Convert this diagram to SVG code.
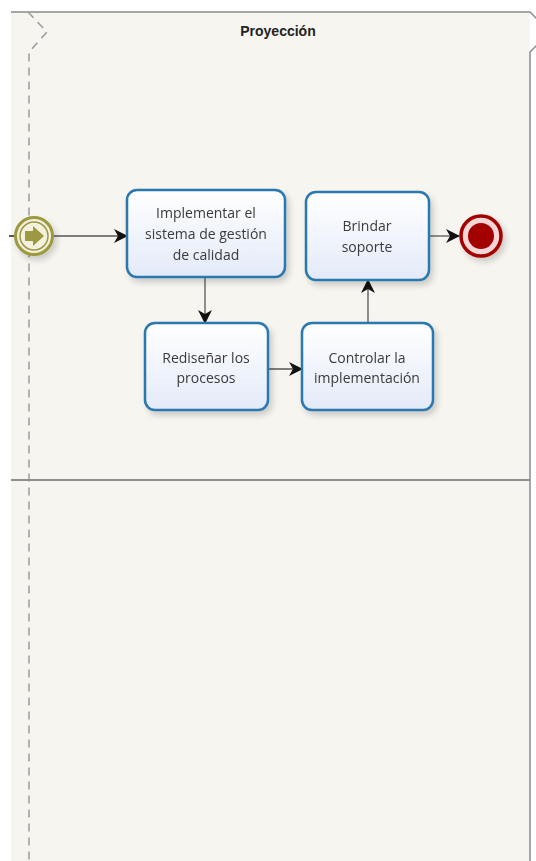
<svg xmlns="http://www.w3.org/2000/svg" width="536" height="861" viewBox="0 0 536 861">
  <defs>
    <linearGradient id="taskFill" x1="0" y1="0" x2="0" y2="1">
      <stop offset="0" stop-color="#ffffff"/>
      <stop offset="1" stop-color="#e3eaf8"/>
    </linearGradient>
    <filter id="shadow" x="-20%" y="-20%" width="150%" height="150%">
      <feGaussianBlur in="SourceAlpha" stdDeviation="3"/>
      <feOffset dx="3" dy="4" result="b"/>
      <feComponentTransfer><feFuncA type="linear" slope="0.18"/></feComponentTransfer>
      <feMerge><feMergeNode/><feMergeNode in="SourceGraphic"/></feMerge>
    </filter>
    <marker id="arrow" markerWidth="14" markerHeight="14" refX="13" refY="7" orient="auto" markerUnits="userSpaceOnUse">
      <path d="M0,0 L14,7 L0,14 L4,7 Z" fill="#111"/>
    </marker>
    <style>
      .task rect { fill: url(#taskFill); stroke: #2a78ad; stroke-width: 2.5; }
      .task text { font-family: "Open Sans", "DejaVu Sans", sans-serif; font-size: 14px; fill: #3a3a3a; text-anchor: middle; dominant-baseline: central; }
      .flow { stroke: #555; stroke-width: 1.3; fill: none; marker-end: url(#arrow); }
    </style>
  </defs>

  <!-- pool / lane background -->
  <g id="pool">
    <rect x="11" y="12" width="519" height="849" fill="#f6f5f0"/>
    <path d="M11,12 H530 L550,32 L530,52 V861" fill="none" stroke="#8a8a8a" stroke-width="1.5"/>
    <path d="M28,12 L47,32 L29,52 V861" fill="none" stroke="#9a9a9a" stroke-width="1.5" stroke-dasharray="8,6"/>
    <line x1="11" y1="480" x2="530" y2="480" stroke="#8e8e8e" stroke-width="2"/>
    <text x="278" y="36" font-family="'Liberation Sans', Arial, sans-serif" font-size="14" font-weight="bold" fill="#222" text-anchor="middle">Proyección</text>
  </g>

  <!-- sequence flows -->
  <g id="connectors">
    <line x1="9" y1="236" x2="15" y2="236" stroke="#222" stroke-width="1.5"/>
    <line class="flow" x1="54" y1="236" x2="127" y2="236"/>
    <line class="flow" x1="205" y1="277" x2="205" y2="323"/>
    <line class="flow" x1="268" y1="369" x2="302" y2="369"/>
    <line class="flow" x1="368" y1="323" x2="368" y2="280"/>
    <line class="flow" x1="429" y1="236" x2="459" y2="236"/>
  </g>

  <g id="start" filter="url(#shadow)">
    <circle cx="34" cy="236" r="18.5" fill="#f3f1dc" stroke="#9d9843" stroke-width="3"/>
    <circle cx="34" cy="236" r="14" fill="#f3f1dc" stroke="#9d9843" stroke-width="1.5"/>
    <path d="M25,231 H33 V226 L44,236 L33,246 V241 H25 Z" fill="#9d9843"/>
  </g>

  <g id="task-implementar" class="task" filter="url(#shadow)">
    <rect x="127" y="190" width="158" height="87" rx="10"/>
    <text x="206" y="212">Implementar el</text>
    <text x="206" y="233">sistema de gestión</text>
    <text x="206" y="254">de calidad</text>
  </g>

  <g id="task-redisenar" class="task" filter="url(#shadow)">
    <rect x="145" y="323" width="123" height="87" rx="10"/>
    <text x="206" y="357">Rediseñar los</text>
    <text x="206" y="377">procesos</text>
  </g>

  <g id="task-controlar" class="task" filter="url(#shadow)">
    <rect x="302" y="323" width="131" height="87" rx="10"/>
    <text x="367" y="357">Controlar la</text>
    <text x="367" y="377">implementación</text>
  </g>

  <g id="task-brindar" class="task" filter="url(#shadow)">
    <rect x="306" y="192" width="123" height="88" rx="10"/>
    <text x="367" y="225">Brindar</text>
    <text x="367" y="246">soporte</text>
  </g>

  <g id="end" filter="url(#shadow)">
    <circle cx="481" cy="236" r="20" fill="#f6d6d6" stroke="#a30000" stroke-width="3.5"/>
    <circle cx="481" cy="236" r="13" fill="#a30000"/>
  </g>
</svg>
